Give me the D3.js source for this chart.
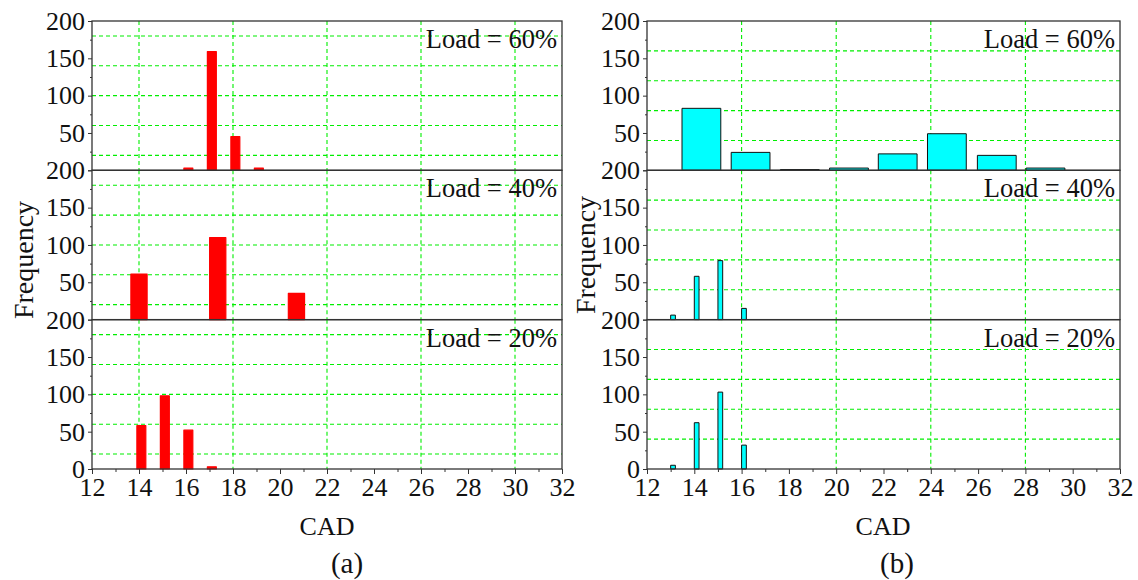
<!DOCTYPE html>
<html><head><meta charset="utf-8">
<script src="https://cdn.jsdelivr.net/npm/d3@7"></script>
<style>
html,body{margin:0;padding:0;background:#fff;}
svg{display:block;}
svg text{font-family:'Liberation Serif','Times New Roman','DejaVu Serif',serif !important;}
</style></head>
<body>
<svg id="chart" width="1138" height="580"></svg>
<script>
// ---------- data ----------
const loadLabels = ["Load = 60%", "Load = 40%", "Load = 20%"];
const panelLabels = ["(a)", "(b)"];
const xTickValues = [12,14,16,18,20,22,24,26,28,30,32];
const yTickValues = [0,50,100,150,200];
const leftGridX = [14,18,22,26,30];
const rightGridX = [16,20,24,28];
const leftGridY = [20,60,100,140,180];
const rightGridY = [40,80,120,160];

// (a) left panel
const cadA60 = [16.1, 17.1, 18.1, 19.1];
const freqA60 = [3, 159, 45, 3];
const cadA40 = [14.0, 17.35, 20.7];
const freqA40 = [61, 110, 35];
const cadA20 = [14.1, 15.1, 16.1, 17.1];
const freqA20 = [58, 98, 52, 3];

// (b) right panel
const cadB60 = [14.3, 16.38, 18.46, 20.54, 22.6, 24.68, 26.79, 28.85];
const freqB60 = [83, 24, 1, 3, 22, 49, 20, 3];
const cadB40 = [13.1, 14.1, 15.1, 16.1];
const freqB40 = [6, 58, 79, 15];
const cadB20 = [13.1, 14.1, 15.1, 16.1];
const freqB20 = [5, 62, 103, 32];

// ---------- layout / style ----------
const FONT = "'Liberation Serif','Times New Roman','DejaVu Serif',serif";
const rowTops = [21, 170.3, 319.7];
const rowH = 149.3;
const panels = [
  { x0: 92, x1: 562, fill: "#ff0000", stroke: "#ff0000", strokeW: 1.2, gridX: leftGridX, gridY: leftGridY,
    rows: [ {cad: cadA60, freq: freqA60, w: 0.38}, {cad: cadA40, freq: freqA40, w: 0.69}, {cad: cadA20, freq: freqA20, w: 0.38} ],
    label: panelLabels[0], labelX: 347, cadX: 327, freqX: 33, freqY: 260 },
  { x0: 647, x1: 1120, fill: "#00ffff", stroke: "#111", strokeW: 1, gridX: rightGridX, gridY: rightGridY,
    rows: [ {cad: cadB60, freq: freqB60, w: 1.64}, {cad: cadB40, freq: freqB40, w: 0.2}, {cad: cadB20, freq: freqB20, w: 0.2} ],
    label: panelLabels[1], labelX: 897, cadX: 883, freqX: 595, freqY: 255 }
];
const gridColor = "#00ee00";
const frameColor = "#333";
const svg = d3.select("#chart");

panels.forEach(p => {
  const x = d3.scaleLinear().domain([12, 32]).range([p.x0, p.x1]);
  const g = svg.append("g");

  p.rows.forEach((r, i) => {
    const top = rowTops[i];
    const y = d3.scaleLinear().domain([0, 200]).range([top + rowH, top]);
    const sg = g.append("g");

    // grid
    sg.selectAll("line.gx").data(p.gridX).join("line")
      .attr("x1", d => x(d)).attr("x2", d => x(d))
      .attr("y1", top).attr("y2", top + rowH)
      .attr("stroke", gridColor).attr("stroke-width", 1.1).attr("stroke-dasharray", "4,3");
    sg.selectAll("line.gy").data(p.gridY).join("line")
      .attr("x1", p.x0).attr("x2", p.x1)
      .attr("y1", d => y(d)).attr("y2", d => y(d))
      .attr("stroke", gridColor).attr("stroke-width", 1.1).attr("stroke-dasharray", "4,3");

    // bars
    const data = r.cad.map((c, k) => ({c, f: r.freq[k]}));
    sg.selectAll("rect.bar").data(data).join("rect")
      .attr("x", d => x(d.c - r.w / 2))
      .attr("width", d => x(d.c + r.w / 2) - x(d.c - r.w / 2))
      .attr("y", d => y(d.f))
      .attr("height", d => y(0) - y(d.f))
      .attr("fill", p.fill).attr("stroke", p.stroke).attr("stroke-width", p.strokeW)
      .attr("stroke-linejoin", "round");

    // y axis major (the "0" of upper rows is hidden under the "200" of the row below)
    const yVals = i === 2 ? yTickValues : yTickValues.filter(v => v !== 0);
    const ya = d3.axisLeft(y).tickValues(yVals).tickSize(4).tickPadding(3);
    const yg = sg.append("g").attr("transform", `translate(${p.x0},0)`).call(ya);
    yg.attr("font-family", FONT);
    yg.select(".domain").remove();
    yg.selectAll("line").attr("stroke", frameColor);
    yg.selectAll("text").attr("font-size", 26).attr("fill", "#111");
    if (i !== 2) {
      const y0 = d3.axisLeft(y).tickValues([0]).tickSize(4).tickFormat("");
      const y0g = sg.append("g").attr("transform", `translate(${p.x0},0)`).call(y0);
      y0g.select(".domain").remove();
      y0g.selectAll("line").attr("stroke", frameColor);
    }
    // y axis minor
    const ym = d3.axisLeft(y).tickValues([25,75,125,175]).tickSize(2).tickFormat("");
    const ymg = sg.append("g").attr("transform", `translate(${p.x0},0)`).call(ym);
    ymg.select(".domain").remove();
    ymg.selectAll("line").attr("stroke", frameColor);

    // frame
    sg.append("rect").attr("x", p.x0).attr("y", top).attr("width", p.x1 - p.x0).attr("height", rowH)
      .attr("fill", "none").attr("stroke", frameColor).attr("stroke-width", 1.3);

    // load label
    sg.append("text").attr("x", p.x1 - 5).attr("y", top + 27)
      .attr("text-anchor", "end").attr("font-size", 26.5).attr("fill", "#111")
      .attr("font-family", FONT)
      .text(loadLabels[i]);

    if (i === 2) {
      const xa = d3.axisBottom(x).tickValues(xTickValues).tickSize(5).tickPadding(4);
      const xg = sg.append("g").attr("transform", `translate(0,${top + rowH})`).call(xa);
      xg.attr("font-family", FONT);
      xg.select(".domain").remove();
      xg.selectAll("line").attr("stroke", frameColor);
      xg.selectAll("text").attr("font-size", 26).attr("fill", "#111");
      const xm = d3.axisBottom(x).tickValues(d3.range(13, 32, 2)).tickSize(3).tickFormat("");
      const xmg = sg.append("g").attr("transform", `translate(0,${top + rowH})`).call(xm);
      xmg.select(".domain").remove();
      xmg.selectAll("line").attr("stroke", frameColor);
    }
  });

  // axis titles
  g.append("text").attr("transform", `translate(${p.freqX},${p.freqY}) rotate(-90)`)
    .attr("text-anchor", "middle").attr("font-size", 28).attr("fill", "#111")
    .attr("font-family", FONT).text("Frequency");
  g.append("text").attr("x", p.cadX).attr("y", 535)
    .attr("text-anchor", "middle").attr("font-size", 26).attr("fill", "#111")
    .attr("font-family", FONT).text("CAD");
  g.append("text").attr("x", p.labelX).attr("y", 573)
    .attr("text-anchor", "middle").attr("font-size", 29).attr("fill", "#111")
    .attr("font-family", FONT).text(p.label);
});
</script>
</body></html>
